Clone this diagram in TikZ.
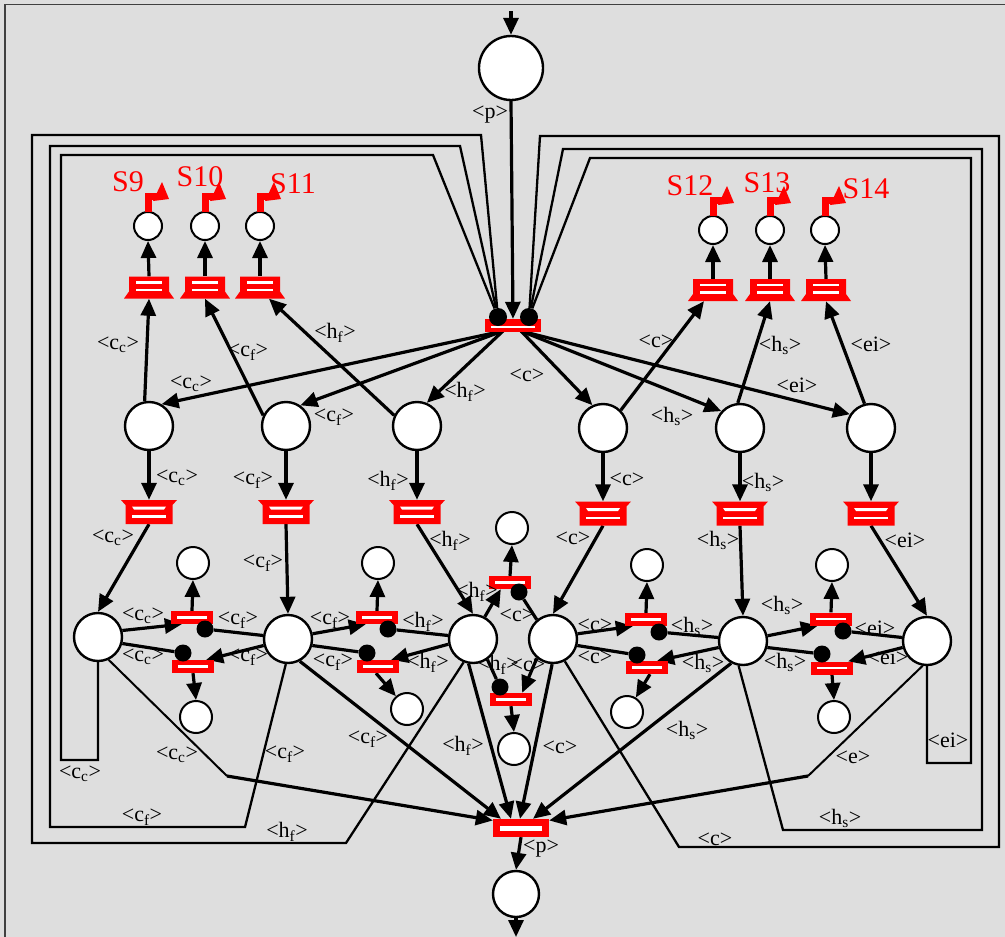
\documentclass[tikz,border=0pt]{standalone}
\usepackage{fontspec}
\setmainfont{Liberation Serif}
\usetikzlibrary{arrows.meta,calc}
\pgfdeclarelayer{bg}
\pgfdeclarelayer{edges}
\pgfsetlayers{bg,edges,main}
\definecolor{bgc}{gray}{0.87}
\definecolor{tred}{RGB}{255,0,0}
\newcommand\tCC{<c\textsubscript{c}>}
\newcommand\tCF{<c\textsubscript{f}>}
\newcommand\tHF{<h\textsubscript{f}>}
\newcommand\tHS{<h\textsubscript{s}>}
\newcommand\tC{<c>}
\newcommand\tEI{<ei>}
\newcommand\tE{<e>}
\newcommand\tP{<p>}
\newcounter{lbc}
\newcommand\lbl[2]{\stepcounter{lbc}\node[lab] (lab\arabic{lbc}) at (#1) {#2};}
\newcommand\redflag[1]{\begin{scope}[shift={(#1.north)}]
 \fill[tred] (-3.5,1) rectangle (3.5,-18);
 \fill[tred] (-3.5,-18) rectangle (11,-11);
 \fill[tred] (5,-10) -- (21,-12) -- (14,-29) -- cycle;
\end{scope}}
\begin{document}
\begin{tikzpicture}[x=1pt,y=-1pt,
 place/.style={circle,draw,line width=2.4pt,fill=white,minimum size=48pt,inner sep=0pt},
 splace/.style={circle,draw,line width=2pt,fill=white,minimum size=32pt,inner sep=0pt},
 tplace/.style={circle,draw,line width=2pt,fill=white,minimum size=28pt,inner sep=0pt},
 rdot/.style={circle,fill=black,minimum size=17pt,inner sep=0pt},
 strans/.style={rectangle,fill=tred,minimum width=42pt,minimum height=13pt,inner sep=0pt,
  path picture={\fill[white] ($(path picture bounding box.center)+(-15,-1.5)$) rectangle ($(path picture bounding box.center)+(15,1)$);}},
 t0/.style={rectangle,fill=tred,minimum width=56pt,minimum height=13pt,inner sep=0pt,
  path picture={\fill[white] ($(path picture bounding box.center)+(-22,0.5)$) rectangle ($(path picture bounding box.center)+(22,2.5)$);}},
 endt/.style={rectangle,fill=tred,minimum width=56pt,minimum height=18pt,inner sep=0pt,
  path picture={\fill[white] ($(path picture bounding box.center)+(-21,-2.5)$) rectangle ($(path picture bounding box.center)+(21,2.5)$);}},
 utrans/.style={rectangle,minimum width=50pt,minimum height=22pt,inner sep=0pt,
  path picture={\begin{scope}[shift={(path picture bounding box.center)}]
   \fill[tred] (-20,-11) -- (20,-11) -- (20,4) -- (25,11) -- (-25,11) -- (-20,4) -- cycle;
   \fill[white] (-13,-6.5) rectangle (13,-4);
   \fill[white] (-13,1) rectangle (13,3.5);
  \end{scope}}},
 mtrans/.style={rectangle,minimum width=56pt,minimum height=24pt,inner sep=0pt,
  path picture={\begin{scope}[shift={(path picture bounding box.center)}]
   \fill[tred] (-28,-12) -- (28,-12) -- (23.5,-7) -- (23.5,12) -- (-23.5,12) -- (-23.5,-7) -- cycle;
   \fill[white] (-17,-5.5) -- (17,-5.5) -- (15,-2.5) -- (-15,-2.5) -- cycle;
   \fill[white] (-17,3) rectangle (17,5.5);
  \end{scope}}},
 arw/.style={line width=3.2pt,-{Triangle[length=17pt,width=15pt]}},
 rd/.style={line width=3.2pt},
 lp/.style={line width=2.3pt},
 thn/.style={line width=2pt},
 lab/.style={inner sep=0pt,font=\fontsize{22}{24}\selectfont},
 slab/.style={inner sep=0pt,text=tred,font=\fontsize{30}{32}\selectfont}]
\useasboundingbox (0,0) rectangle (1005,937);
\begin{pgfonlayer}{bg}
 \fill[bgc] (0,0) rectangle (1005,937);
 \draw[black!75,line width=1.8pt] (5,937) -- (5,4.5) -- (1005,4.5);
\end{pgfonlayer}

% ---------- places ----------
\node[place,minimum size=64pt] (Ptop) at (511,68) {};
\node[place,minimum size=46pt] (Pbot) at (516,894) {};
\node[place] (Mcc) at (149,426) {};
\node[place] (Mcf) at (286,426) {};
\node[place] (Mhf) at (417,426) {};
\node[place] (Mc)  at (603,428) {};
\node[place] (Mhs) at (740,428) {};
\node[place] (Mei) at (871,428) {};
\node[place] (Lcc) at (98,637) {};
\node[place] (Lcf) at (288,639) {};
\node[place] (Lhf) at (473,639) {};
\node[place] (Rc)  at (553,639) {};
\node[place] (Rhs) at (743,641) {};
\node[place] (Rei) at (927,641) {};
\node[tplace] (S9c)  at (148,226) {};
\node[tplace] (S10c) at (205,226) {};
\node[tplace] (S11c) at (260,226) {};
\node[tplace] (S12c) at (713,230) {};
\node[tplace] (S13c) at (770,230) {};
\node[tplace] (S14c) at (825,230) {};
\node[splace] (a1) at (193,563) {};
\node[splace] (b1) at (196,717) {};
\node[splace] (a2) at (378,563) {};
\node[splace] (b2) at (407,709) {};
\node[splace] (a0) at (512,528) {};
\node[splace] (b0) at (514,749) {};
\node[splace] (a3) at (647,565) {};
\node[splace] (b3) at (627,712) {};
\node[splace] (a4) at (832,565) {};
\node[splace] (b4) at (834,717) {};

% ---------- transitions ----------
\node[t0] (T0) at (513,325.5) {};
\node[endt] (Tend) at (521,828) {};
\node[utrans] (U9)  at (149,287.5) {};
\node[utrans] (U10) at (205,287.5) {};
\node[utrans] (U11) at (260,287.5) {};
\node[utrans] (U12) at (713,290) {};
\node[utrans] (U13) at (770,290) {};
\node[utrans] (U14) at (826,290) {};
\node[mtrans] (Vcc) at (149,512) {};
\node[mtrans] (Vcf) at (286,512) {};
\node[mtrans] (Vhf) at (417,512) {};
\node[mtrans] (Vc)  at (603,513.5) {};
\node[mtrans] (Vhs) at (740,513.5) {};
\node[mtrans] (Vei) at (871,513.5) {};
\node[strans] (tu1) at (192,617.5) {};
\node[strans] (tl1) at (193,666.5) {};
\node[strans] (tu2) at (377,617.5) {};
\node[strans] (tl2) at (378,666.5) {};
\node[strans] (tu0) at (510,582.5) {};
\node[strans] (tl0) at (511,699.5) {};
\node[strans] (tu3) at (646,619.5) {};
\node[strans] (tl3) at (647,667.5) {};
\node[strans] (tu4) at (831,619) {};
\node[strans] (tl4) at (832,668) {};

% ---------- read-arc dots ----------
\node[rdot,minimum size=18pt] (dL) at (498,317) {};
\node[rdot,minimum size=18pt] (dR) at (529,317) {};
\node[rdot] (du1) at (205,629) {};
\node[rdot] (dl1) at (183,653) {};
\node[rdot] (du2) at (388,629) {};
\node[rdot] (dl2) at (367,653) {};
\node[rdot] (du0) at (519,592) {};
\node[rdot] (dl0) at (500,687) {};
\node[rdot] (du3) at (659,632) {};
\node[rdot] (dl3) at (637,655) {};
\node[rdot] (du4) at (843,631) {};
\node[rdot] (dl4) at (822,654) {};

% ---------- flags ----------
\redflag{S9c}\redflag{S10c}\redflag{S11c}\redflag{S12c}\redflag{S13c}\redflag{S14c}
\node[slab] (lS9)  at (128,182) {S9};
\node[slab] (lS10) at (200,177) {S10};
\node[slab] (lS11) at (293,184) {S11};
\node[slab] (lS12) at (690,186) {S12};
\node[slab] (lS13) at (767,183) {S13};
\node[slab] (lS14) at (866,189) {S14};

\coordinate (in) at (511,11);
\coordinate (out) at (516,937);
\coordinate (T0l) at (503,331);
\coordinate (T0r) at (521,331);
\coordinate (bendL) at (227,776);
\coordinate (bendR) at (808,776);

\begin{pgfonlayer}{edges}
 % input / output
 \draw[arw] (in) -- (Ptop.north);
 \draw[arw] (Ptop.south) -- (T0.north);
 \draw[arw] (Tend.south) -- (Pbot.north);
 \draw[arw] (Pbot.south) -- (out);
 % loops (read arcs into T0)
 \draw[lp] (Lhf.-112) -- (346,843) -- (32,843) -- (32,135) -- (481,135) -- (dL);
 \draw[lp] (Lcf.-95) -- (245,827) -- (50,827) -- (50,146) -- (460,146) -- (dL);
 \draw[lp] (Lcc.south) |- (61,760) -- (61,155) -- (433,155) -- (dL);
 \draw[lp] (Rc.-62) -- (679,847) -- (999,847) -- (999,136) -- (540,136) -- (dR);
 \draw[lp] (Rhs.-100) -- (783,830) -- (982,830) -- (982,149) -- (563,149) -- (dR);
 \draw[lp] (Rei.south) |- (971,763) -- (971,158) -- (590,158) -- (dR);
 % T0 to middle places
 \draw[arw] (T0l) -- (Mcc.60);
 \draw[arw] (T0l) -- (Mcf.55);
 \draw[arw] (T0l) -- (Mhf.67);
 \draw[arw] (T0r) -- (Mc.115);
 \draw[arw] (T0r) -- (Mhs.138);
 \draw[arw] (T0r) -- (Mei.147);
 % middle places to upper transitions
 \draw[arw] (Mcc.100) -- (U9.south);
 \draw[arw] (Mcf.155) -- (U10.south);
 \draw[arw] (Mhf.155) -- ($(U11.south)+(9,0)$);
 \draw[arw] (Mc.45) -- ($(U12.south)+(-9,0)$);
 \draw[arw] (Mhs.95) -- (U13.south);
 \draw[arw] (Mei.105) -- (U14.south);
 \draw[arw] (U9.north) -- (S9c.south);
 \draw[arw] (U10.north) -- (S10c.south);
 \draw[arw] (U11.north) -- (S11c.south);
 \draw[arw] (U12.north) -- (S12c.south);
 \draw[arw] (U13.north) -- (S13c.south);
 \draw[arw] (U14.north) -- (S14c.south);
 % middle places to middle transitions
 \draw[arw] (Mcc.south) -- (Vcc.north);
 \draw[arw] (Mcf.south) -- (Vcf.north);
 \draw[arw] (Mhf.south) -- (Vhf.north);
 \draw[arw] (Mc.south) -- (Vc.north);
 \draw[arw] (Mhs.south) -- (Vhs.north);
 \draw[arw] (Mei.south) -- (Vei.north);
 % middle transitions to bottom places
 \draw[arw] (Vcc.south) -- (Lcc.north);
 \draw[arw] (Vcf.south) -- (Lcf.north);
 \draw[arw] (Vhf.south) -- (Lhf.north);
 \draw[arw] (Vc.south) -- (Rc.north);
 \draw[arw] (Vhs.south) -- (Rhs.north);
 \draw[arw] (Vei.south) -- (Rei.north);
 % pair 1
 \draw[arw] (Lcc.15) -- ($(tu1.south west)+(11,0)$);
 \draw[rd] (Lcf.172) -- (du1);
 \draw[arw] (tu1.north) -- (a1.south);
 \draw[rd] (Lcc.-15) -- (dl1);
 \draw[arw] (Lcf.-165) -- ($(tl1.north east)+(-8,0)$);
 \draw[arw] (tl1.south) -- (b1.north);
 % pair 2
 \draw[arw] (Lcf.12) -- ($(tu2.south west)+(10,0)$);
 \draw[rd] (Lhf.172) -- (du2);
 \draw[arw] (tu2.north) -- (a2.south);
 \draw[rd] (Lcf.-15) -- (dl2);
 \draw[arw] (Lhf.-168) -- ($(tl2.north east)+(-8,0)$);
 \draw[arw] ($(tl2.south)+(-2,0)$) -- (b2);
 % centre pair
 \draw[arw] (Lhf.62) -- ($(tu0.south west)+(12,0)$);
 \draw[rd] (Rc.130) -- (du0);
 \draw[arw] (tu0.north) -- (a0.south);
 \draw[rd] (Lhf.-55) -- (dl0);
 \draw[arw] (Rc.-130) -- ($(tl0.north east)+(-10,0)$);
 \draw[arw] (tl0.south) -- (b0.north);
 % pair 3
 \draw[arw] (Rc.12) -- ($(tu3.south west)+(8,0)$);
 \draw[rd] (Rhs.172) -- (du3);
 \draw[arw] (tu3.north) -- (a3.south);
 \draw[rd] (Rc.-15) -- (dl3);
 \draw[arw] (Rhs.-165) -- ($(tl3.north east)+(-11,0)$);
 \draw[arw] ($(tl3.south)+(3,0)$) -- (b3);
 % pair 4
 \draw[arw] (Rhs.12) -- ($(tu4.south west)+(8,0)$);
 \draw[rd] (Rei.172) -- (du4);
 \draw[arw] (tu4.north) -- (a4.south);
 \draw[rd] (Rhs.-15) -- (dl4);
 \draw[arw] (Rei.-165) -- ($(tl4.north east)+(-5,0)$);
 \draw[arw] (tl4.south) -- (b4.north);
 % into the final transition
 \draw[thn] (Lcc.-65) -- (bendL);
 \draw[arw] (bendL) -- (Tend.165);
 \draw[arw] (Lcf.-62) -- ($(Tend.north)+(-20,0)$);
 \draw[arw] (Lhf.-100) -- ($(Tend.north)+(-10,0)$);
 \draw[arw] (Rc.-92) -- ($(Tend.north)+(-1,0)$);
 \draw[arw] (Rhs.-118) -- ($(Tend.north)+(12,0)$);
 \draw[thn] (Rei.-100) -- (bendR);
 \draw[arw] (bendR) -- (Tend.15);
\end{pgfonlayer}

% ---------- labels ----------
\lbl{490,115}{\tP}
\lbl{541,849}{\tP}
\lbl{191,384}{\tCC}
\lbl{334,417}{\tCF}
\lbl{465,392}{\tHF}
\lbl{527,375}{\tC}
\lbl{672,416}{\tHS}
\lbl{797,385}{\tEI}
\lbl{118,345}{\tCC}
\lbl{248,352}{\tCF}
\lbl{335,333}{\tHF}
\lbl{656,341}{\tC}
\lbl{780,345}{\tHS}
\lbl{871,344}{\tEI}
\lbl{177,478}{\tCC}
\lbl{253,480}{\tCF}
\lbl{388,481}{\tHF}
\lbl{627,479}{\tC}
\lbl{763,482}{\tHS}
\lbl{113,538}{\tCC}
\lbl{263,563}{\tCF}
\lbl{450,541}{\tHF}
\lbl{573,538}{\tC}
\lbl{718,540}{\tHS}
\lbl{905,540}{\tEI}
\lbl{143,616}{\tCC}
\lbl{238,620}{\tCF}
\lbl{143,657}{\tCC}
\lbl{248,657}{\tCF}
\lbl{330,620}{\tCF}
\lbl{423,622}{\tHF}
\lbl{333,662}{\tCF}
\lbl{428,663}{\tHF}
\lbl{477,592}{\tHF}
\lbl{517,615}{\tC}
\lbl{498,665}{\tHF}
\lbl{528,665}{\tC}
\lbl{595,625}{\tC}
\lbl{692,626}{\tHS}
\lbl{595,657}{\tC}
\lbl{703,663}{\tHS}
\lbl{782,605}{\tHS}
\lbl{875,628}{\tEI}
\lbl{785,662}{\tHS}
\lbl{888,657}{\tEI}
\lbl{177,755}{\tCC}
\lbl{368,739}{\tCF}
\lbl{463,746}{\tHF}
\lbl{560,747}{\tC}
\lbl{687,730}{\tHS}
\lbl{853,757}{\tE}
\lbl{80,774}{\tCC}
\lbl{285,754}{\tCF}
\lbl{142,817}{\tCF}
\lbl{287,832}{\tHF}
\lbl{715,839}{\tC}
\lbl{840,818}{\tHS}
\lbl{948,740}{\tEI}
\end{tikzpicture}
\end{document}
